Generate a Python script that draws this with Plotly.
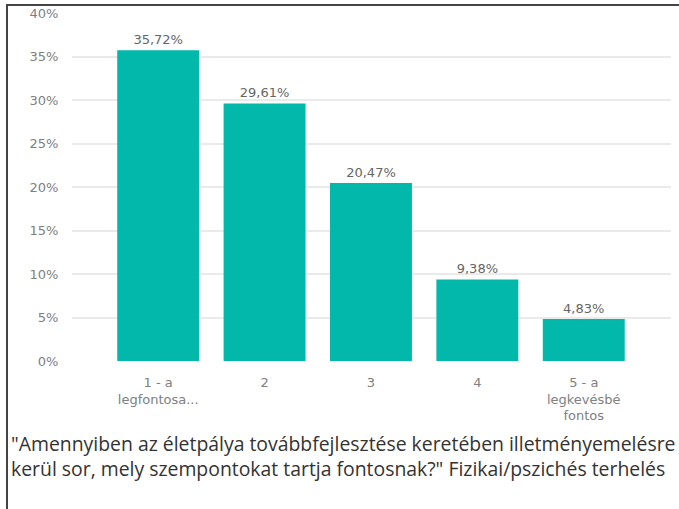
import plotly.graph_objects as go

categories = ["1 - a<br>legfontosa...", "2", "3", "4", "5 - a<br>legkevésbé<br>fontos"]
values = [35.72, 29.61, 20.47, 9.38, 4.83]
value_labels = ["35,72%", "29,61%", "20,47%", "9,38%", "4,83%"]
y_ticks = [0, 5, 10, 15, 20, 25, 30, 35, 40]
y_tick_labels = ["0%", "5%", "10%", "15%", "20%", "25%", "30%", "35%", "40%"]
title_text = ('"Amennyiben az életpálya továbbfejlesztése keretében illetményemelésre<br>'
              'kerül sor, mely szempontokat tartja fontosnak?" Fizikai/pszichés terhelés')

W, H = 679, 509
L, R, T, B = 72, 8, 13, 148
pw, ph = W - L - R, H - T - B

def px_x(p):
    return (p - L) / pw

def px_y(p):
    return (H - B - p) / ph

fig = go.Figure()
fig.add_trace(go.Bar(
    x=list(range(len(categories))), y=values,
    marker=dict(color="#01B8AA", line=dict(width=0)),
    width=0.77,
    text=value_labels, textposition="outside",
    textfont=dict(color="#666666", size=13, family="DejaVu Sans"),
    cliponaxis=False,
))

fig.update_layout(
    width=W, height=H,
    margin=dict(l=L, r=R, t=T, b=B, autoexpand=False),
    paper_bgcolor="white", plot_bgcolor="white",
    showlegend=False,
    font=dict(family="DejaVu Sans", color="#777777"),
    xaxis=dict(
        range=[-0.81, 4.82],
        tickmode="array", tickvals=list(range(len(categories))), ticktext=categories,
        showgrid=False, zeroline=False, showline=False,
        tickfont=dict(size=13, color="#808080", family="DejaVu Sans"),
        ticks="outside", ticklen=9, tickcolor="rgba(0,0,0,0)",
    ),
    yaxis=dict(
        range=[0, 40],
        tickmode="array", tickvals=y_ticks, ticktext=y_tick_labels,
        showgrid=True, gridcolor="#EAEAEA", gridwidth=1.5,
        zeroline=False, showline=False,
        tickfont=dict(size=13, color="#808080", family="DejaVu Sans"),
        ticks="outside", ticklen=10, tickcolor="rgba(0,0,0,0)",
    ),
    annotations=[dict(
        text=title_text, xref="paper", yref="paper",
        x=px_x(9), y=px_y(428), xanchor="left", yanchor="top",
        align="left", showarrow=False,
        font=dict(size=19.4, color="#333333", family="Open Sans"),
    )],
    shapes=[
        dict(type="line", xref="paper", yref="paper",
             x0=px_x(7), x1=px_x(7), y0=px_y(4), y1=px_y(512),
             line=dict(color="#444444", width=2)),
        dict(type="line", xref="paper", yref="paper",
             x0=px_x(6), x1=px_x(682), y0=px_y(5), y1=px_y(5),
             line=dict(color="#444444", width=2)),
    ],
)

fig.write_html("out.html", config={"displayModeBar": False},
               post_script="document.body.style.margin='0';document.body.style.overflow='hidden';")
